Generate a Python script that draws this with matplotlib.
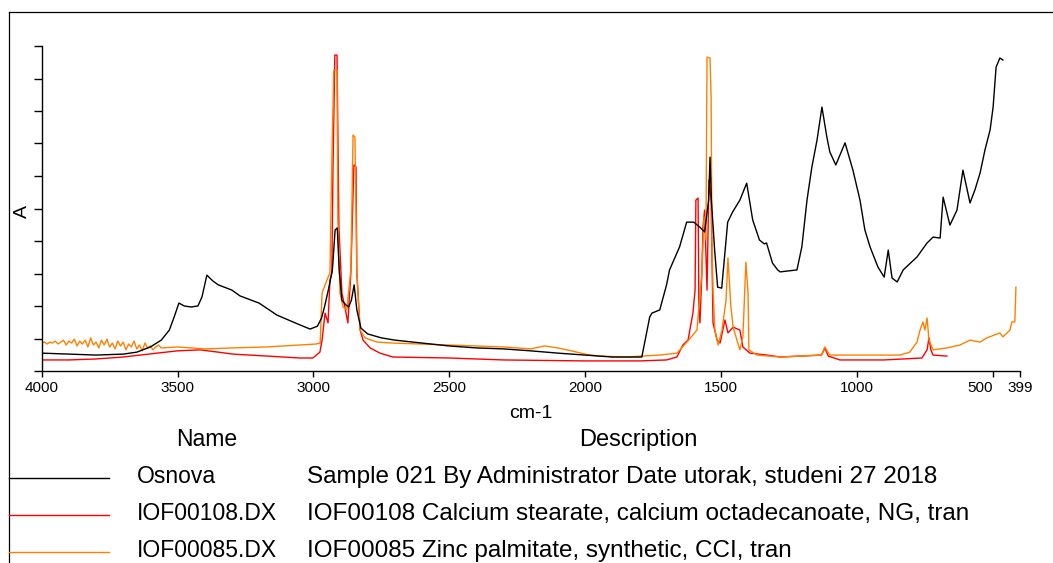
import matplotlib
matplotlib.use("Agg")
import matplotlib.pyplot as plt
from matplotlib.lines import Line2D
import numpy as np

plt.rcParams['font.family'] = ['Liberation Sans', 'DejaVu Sans']

W, H = 1053, 563

# Osnova (black)
osnova_wn = [4000, 3900, 3800, 3700, 3650, 3600, 3560, 3530, 3510, 3495, 3475, 3450, 3425, 3410,
             3392, 3370, 3350, 3300, 3270, 3200, 3134, 3050, 3012, 2985, 2970, 2960, 2945, 2930,
             2920, 2912, 2905, 2895, 2880, 2870, 2860, 2850, 2840, 2825, 2800, 2750, 2700, 2600,
             2500, 2400, 2300, 2200, 2100, 2000, 1900, 1800, 1791, 1762, 1754, 1725, 1700, 1689,
             1652, 1626, 1600, 1578, 1560, 1545, 1540, 1535, 1523, 1512, 1497, 1475, 1457, 1430,
             1405, 1383, 1358, 1340, 1332, 1310, 1291, 1282, 1220, 1202, 1183, 1165, 1146, 1128,
             1110, 1099, 1077, 1043, 1014, 988, 970, 951, 922, 899, 884, 870, 851, 829, 778, 741,
             719, 693, 682, 657, 631, 609, 583, 565, 546, 528, 509, 498, 487, 473, 462]
osnova_a = [0.055, 0.052, 0.049, 0.052, 0.058, 0.074, 0.095, 0.126, 0.172, 0.209, 0.200, 0.197, 0.200, 0.228,
            0.295, 0.277, 0.265, 0.249, 0.231, 0.209, 0.172, 0.142, 0.129, 0.138, 0.163, 0.194, 0.249, 0.311,
            0.434, 0.440, 0.311, 0.218, 0.203, 0.197, 0.218, 0.265, 0.188, 0.132, 0.114, 0.102, 0.095, 0.086,
            0.077, 0.071, 0.068, 0.062, 0.055, 0.049, 0.043, 0.043, 0.043, 0.166, 0.178, 0.188, 0.265, 0.311,
            0.382, 0.458, 0.458, 0.443, 0.428, 0.526, 0.658, 0.526, 0.372, 0.258, 0.255, 0.458, 0.489, 0.526,
            0.578, 0.465, 0.403, 0.391, 0.394, 0.332, 0.311, 0.305, 0.311, 0.382, 0.526, 0.628, 0.711, 0.812,
            0.720, 0.674, 0.634, 0.702, 0.618, 0.526, 0.434, 0.382, 0.320, 0.289, 0.372, 0.286, 0.274, 0.311, 0.351, 0.394,
            0.412, 0.409, 0.535, 0.449, 0.495, 0.618, 0.517, 0.557, 0.609, 0.680, 0.742, 0.812, 0.935, 0.963, 0.957]

# IOF00108 Calcium stearate (red)
stearate_wn = [4000, 3900, 3800, 3700, 3575, 3500, 3417, 3350, 3296, 3171, 3050, 3002, 2976, 2968,
               2957, 2946, 2939, 2932, 2928, 2921, 2913, 2906, 2895, 2884, 2873, 2862, 2851, 2843,
               2840, 2828, 2817, 2791, 2755, 2707, 2500, 2300, 2000, 1800, 1700, 1662, 1640, 1621,
               1603, 1595, 1592, 1584, 1581, 1577, 1570, 1566, 1560, 1551, 1544, 1536, 1529, 1514,
               1503, 1485, 1474, 1455, 1430, 1419, 1393, 1330, 1282, 1130, 1117, 1105, 1062, 900,
               760, 741, 734, 727, 719, 668]
stearate_a = [0.034, 0.034, 0.037, 0.043, 0.055, 0.062, 0.065, 0.058, 0.052, 0.046, 0.040, 0.040, 0.058, 0.095,
              0.178, 0.148, 0.280, 0.302, 0.609, 0.972, 0.972, 0.443, 0.240, 0.197, 0.148, 0.302, 0.634, 0.628,
              0.302, 0.126, 0.095, 0.071, 0.055, 0.043, 0.040, 0.034, 0.031, 0.031, 0.034, 0.043, 0.080, 0.095,
              0.178, 0.249, 0.526, 0.532, 0.197, 0.148, 0.302, 0.443, 0.495, 0.249, 0.588, 0.526, 0.148, 0.095,
              0.086, 0.157, 0.117, 0.135, 0.126, 0.074, 0.055, 0.049, 0.043, 0.049, 0.071, 0.046, 0.034, 0.034,
              0.040, 0.065, 0.102, 0.065, 0.049, 0.046]

# IOF00085 Zinc palmitate (orange)
palmitate_wn = [4000, 3990, 3980, 3970, 3960, 3950, 3940, 3930, 3920, 3910, 3900, 3890, 3880, 3870,
                3860, 3850, 3840, 3830, 3820, 3810, 3800, 3790, 3780, 3770, 3760, 3750, 3740, 3730,
                3720, 3710, 3700, 3690, 3680, 3670, 3660, 3650, 3640, 3630, 3620, 3610, 3600, 3590,
                3580, 3570, 3560, 3500, 3400, 3300, 3171, 3050,
                2990, 2975, 2968, 2950, 2939, 2932, 2925, 2913, 2910, 2902, 2891, 2877, 2862, 2854,
                2847, 2840, 2828, 2810, 2766, 2707, 2600, 2500, 2400, 2300, 2200, 2150, 2100, 2050,
                2000, 1950, 1850, 1725, 1662, 1625, 1588, 1570, 1562, 1555, 1551, 1540, 1536, 1533,
                1529, 1522, 1510, 1496, 1481, 1474, 1463, 1455, 1441, 1430, 1419, 1408, 1400, 1397,
                1367, 1282, 1130, 1117, 1100, 1062, 841, 805, 778, 767, 756, 749, 741, 734, 719, 668,
                620, 583, 546, 521, 473, 462, 436, 429, 418, 414]
palmitate_a = [0.086, 0.089, 0.083, 0.089, 0.086, 0.092, 0.083, 0.089, 0.095, 0.080, 0.092, 0.086, 0.098, 0.077,
               0.092, 0.083, 0.095, 0.074, 0.102, 0.080, 0.089, 0.071, 0.095, 0.080, 0.098, 0.074, 0.086, 0.068,
               0.092, 0.077, 0.089, 0.065, 0.083, 0.074, 0.092, 0.068, 0.080, 0.062, 0.086, 0.071, 0.077, 0.065,
               0.074, 0.080, 0.071, 0.074, 0.068, 0.071, 0.074, 0.080,
               0.083, 0.086, 0.240, 0.280, 0.302, 0.649, 0.926, 0.926, 0.465, 0.240, 0.197, 0.188, 0.311, 0.726,
               0.720, 0.302, 0.126, 0.102, 0.089, 0.086, 0.083, 0.080, 0.077, 0.074, 0.068, 0.077, 0.071, 0.062,
               0.052, 0.046, 0.043, 0.049, 0.055, 0.089, 0.126, 0.302, 0.474, 0.403, 0.966, 0.963, 0.843, 0.403,
               0.249, 0.126, 0.080, 0.126, 0.218, 0.348, 0.197, 0.135, 0.095, 0.065, 0.105, 0.335, 0.240, 0.065,
               0.049, 0.043, 0.049, 0.074, 0.049, 0.049, 0.049, 0.058, 0.089, 0.126, 0.151, 0.126, 0.163, 0.095, 0.065, 0.071,
               0.080, 0.095, 0.089, 0.102, 0.117, 0.105, 0.126, 0.151, 0.151, 0.258]

names = ["Osnova", "IOF00108.DX", "IOF00085.DX"]
descriptions = ["Sample 021 By Administrator Date utorak, studeni 27 2018",
                "IOF00108 Calcium stearate, calcium octadecanoate, NG, tran",
                "IOF00085 Zinc palmitate, synthetic, CCI, tran"]
colors = ["#000000", "#ff0000", "#ff8000"]

xticks = [4000, 3500, 3000, 2500, 2000, 1500, 1000, 500, 399]
yticks = np.linspace(0, 1, 11)


def fx(px):
    return px / W


def fy(py):
    return 1 - py / H


fig = plt.figure(figsize=(W / 100, H / 100), dpi=100)
ax = fig.add_axes([fx(41.7), fy(371), (1020 - 41.7) / W, (371 - 46) / H])

series = [(osnova_wn, osnova_a), (stearate_wn, stearate_a), (palmitate_wn, palmitate_a)]
zorders = [3, 1, 2]
for (wn, a), c, z in zip(series, colors, zorders):
    ax.plot(wn, a, color=c, lw=1.0, zorder=z)

ax.set_xlim(4000, 399)
ax.set_ylim(0, 1)
ax.set_xticks(xticks)
ax.set_xticklabels([str(t) for t in xticks], fontsize=11)
ax.set_yticks(yticks)
ax.set_yticklabels([])
for s in ["top", "right"]:
    ax.spines[s].set_visible(False)
for s in ["left", "bottom"]:
    ax.spines[s].set_linewidth(1.0)
ax.tick_params(axis="x", direction="out", length=4.5, width=1.0, pad=3)
ax.tick_params(axis="y", direction="out", length=6, width=1.0)
ax.get_xticklabels()[-2].set_horizontalalignment("right")

# outer frame
fig.add_artist(Line2D([fx(9), fx(9)], [fy(12), 0], color="black", lw=0.9))
fig.add_artist(Line2D([fx(9), 1], [fy(12), fy(12)], color="black", lw=0.9))

fig.text(fx(22), fy(212), "A", rotation=90, ha="center", va="center", fontsize=14)
fig.text(fx(531), fy(418), "cm-1", ha="center", va="baseline", fontsize=14)

# legend table
fig.text(fx(207), fy(446), "Name", ha="center", va="baseline", fontsize=16.5)
fig.text(fx(638), fy(446), "Description", ha="center", va="baseline", fontsize=17)
line_y = [478, 515, 552]
text_y = [483, 520, 557]
for name, desc, c, ly, ty in zip(names, descriptions, colors, line_y, text_y):
    fig.add_artist(Line2D([fx(9), fx(109)], [fy(ly), fy(ly)], color=c, lw=1.0))
    fig.text(fx(137), fy(ty), name, ha="left", va="baseline", fontsize=16.5)
    fig.text(fx(307), fy(ty), desc, ha="left", va="baseline", fontsize=17.5)

fig.savefig("out.png", dpi=100)
